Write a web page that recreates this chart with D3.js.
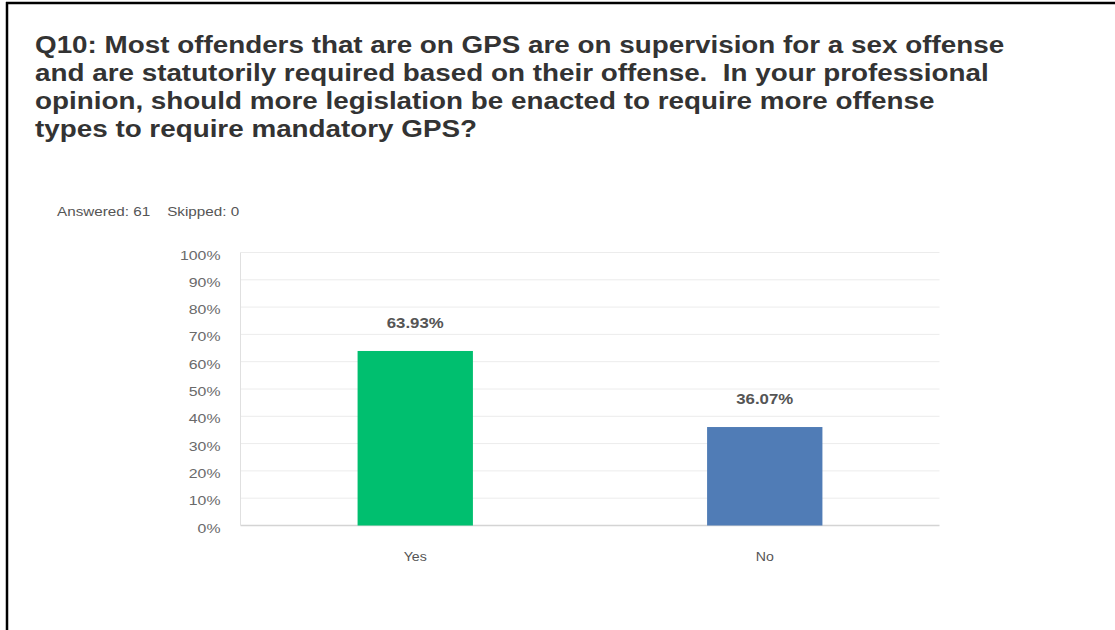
<!DOCTYPE html>
<html>
<head>
<meta charset="utf-8">
<script src="https://cdn.jsdelivr.net/npm/d3@7"></script>
<style>
  body { margin: 0; background: #fff; }
  svg { display: block; font-family: "Liberation Sans", Arial, sans-serif; }
</style>
</head>
<body>
<svg width="1115" height="630"></svg>
<script>
var titleLines = [
    "Q10: Most offenders that are on GPS are on supervision for a sex offense",
    "and are statutorily required based on their offense.  In your professional",
    "opinion, should more legislation be enacted to require more offense",
    "types to require mandatory GPS?"
];
var answered = 61;
var skipped = 0;
var categories = ["Yes", "No"];
var values = [63.93, 36.07];
var barColors = ["#00bf6f", "#507cb6"];
var yTicks = [0, 10, 20, 30, 40, 50, 60, 70, 80, 90, 100];

var svg = d3.select("svg");

// the source screenshot is a bit wide, so text gets stretched sideways
function stretch(sel, sx) {
    sel.each(function () {
        var t = d3.select(this);
        var tx = +t.attr("x") || 0, ty = +t.attr("y") || 0;
        t.attr("transform", "translate(" + tx + "," + ty + ") scale(" + sx + ",1)")
            .attr("x", 0).attr("y", 0);
    });
}

// frame
svg.append("line").attr("x1", 7).attr("x2", 7).attr("y1", 2).attr("y2", 630)
    .attr("stroke", "#000").attr("stroke-width", 2.5);
svg.append("line").attr("x1", 6).attr("x2", 1115).attr("y1", 3).attr("y2", 3)
    .attr("stroke", "#000").attr("stroke-width", 2.5);

// title
var title = svg.append("g").selectAll("text")
    .data(titleLines)
    .enter().append("text")
    .attr("x", 35)
    .attr("y", function (d, i) { return 53 + i * 28; })
    .attr("font-size", "23px")
    .attr("font-weight", "bold")
    .attr("fill", "#333")
    .style("white-space", "pre")
    .text(function (d) { return d; });
stretch(title, 1.21);

var info = svg.append("text")
    .attr("x", 57).attr("y", 216)
    .attr("font-size", "12.5px")
    .attr("fill", "#555")
    .style("white-space", "pre")
    .text("Answered: " + answered + "    Skipped: " + skipped);
stretch(info, 1.22);

var left = 240.5, right = 939.5, plotTop = 252.5, plotBottom = 525.5;

var x = d3.scaleBand()
    .domain(categories)
    .range([left, right])
    .paddingInner(0.67)
    .paddingOuter(0.335);

var y = d3.scaleLinear().domain([0, 100]).range([plotBottom, plotTop]);

// gridlines
svg.append("g").selectAll("line")
    .data(yTicks)
    .enter().append("line")
    .attr("x1", left).attr("x2", right)
    .attr("y1", function (d) { return y(d); })
    .attr("y2", function (d) { return y(d); })
    .attr("stroke", function (d) { return d === 0 ? "#d4d4d4" : "#ececec"; })
    .attr("stroke-width", function (d) { return d === 0 ? 1.5 : 1; });

svg.append("line")
    .attr("x1", left).attr("x2", left).attr("y1", plotTop).attr("y2", plotBottom)
    .attr("stroke", "#e0e0e0");

// y axis labels
var yAxis = d3.axisLeft(y).tickValues(yTicks).tickSize(0).tickPadding(20)
    .tickFormat(function (d) { return d + "%"; });
var yg = svg.append("g").attr("transform", "translate(" + left + ",0)").call(yAxis);
yg.select(".domain").remove();
yg.selectAll("text")
    .attr("font-size", "13px").attr("fill", "#6a6a6a").attr("dy", "0.5em")
    .attr("font-family", "Liberation Sans, Arial, sans-serif");
stretch(yg.selectAll("text"), 1.22);

// bars
svg.append("g").selectAll("rect")
    .data(values)
    .enter().append("rect")
    .attr("x", function (d, i) { return x(categories[i]); })
    .attr("width", x.bandwidth())
    .attr("y", function (d) { return y(d); })
    .attr("height", function (d) { return plotBottom - y(d); })
    .attr("fill", function (d, i) { return barColors[i]; });

// value labels
var vals = svg.append("g").selectAll("text")
    .data(values)
    .enter().append("text")
    .attr("x", function (d, i) { return x(categories[i]) + x.bandwidth() / 2; })
    .attr("y", function (d) { return y(d) - 23; })
    .attr("text-anchor", "middle")
    .attr("font-size", "14px")
    .attr("font-weight", "bold")
    .attr("fill", "#555")
    .text(function (d) { return d.toFixed(2) + "%"; });
stretch(vals, 1.2);

// x labels
var xAxis = d3.axisBottom(x).tickSize(0).tickPadding(33);
var xg = svg.append("g").attr("transform", "translate(0," + plotBottom + ")").call(xAxis);
xg.select(".domain").remove();
xg.selectAll("text")
    .attr("font-size", "12px").attr("fill", "#555").attr("dy", "0.2em")
    .attr("font-family", "Liberation Sans, Arial, sans-serif");
stretch(xg.selectAll("text"), 1.18);
</script>
</body>
</html>
